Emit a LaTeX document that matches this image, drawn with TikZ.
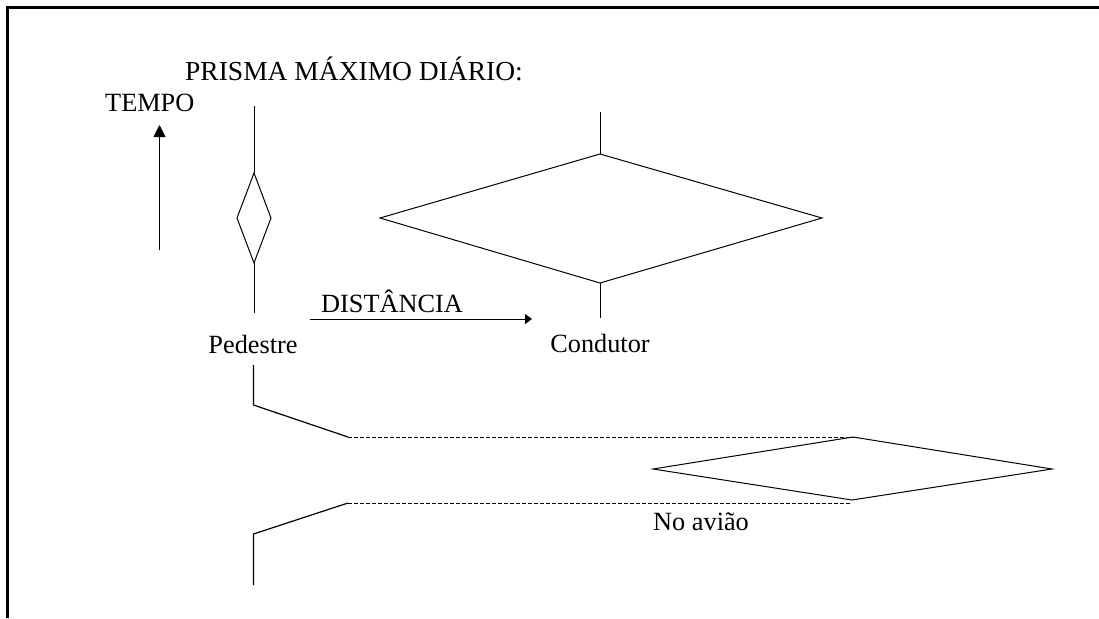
\documentclass[tikz,border=0pt]{standalone}
\usepackage{fontspec}
\setmainfont{Liberation Serif}
\usetikzlibrary{arrows.meta}
\begin{document}
\begin{tikzpicture}[x=1pt,y=-1pt,
  lbl/.style={inner sep=0pt,font=\fontsize{26.3}{30}\selectfont},
  biglbl/.style={inner sep=0pt,font=\fontsize{27.5}{32}\selectfont},
  thin line/.style={line width=1pt},
  prism/.style={line width=1.2pt},
  dashline/.style={line width=0.9pt,dash pattern=on 4pt off 2pt},
  frame/.style={line width=2.5pt}]
\useasboundingbox (0,0) rectangle (1099,618);
% frame (top and left edges)
\coordinate (fbl) at (7.7,618);
\coordinate (ftl) at (7.7,7.5);
\coordinate (ftr) at (1099,7.5);
\draw[frame] (fbl) -- (ftl) -- (ftr);

% labels
\node[biglbl,anchor=base west] (title) at (185,80) {PRISMA MÁXIMO DIÁRIO:};
\node[lbl,anchor=base west] (tempo) at (105,111) {TEMPO};
\node[lbl,anchor=base west] (dist) at (321,312) {DISTÂNCIA};
\node[lbl,anchor=base] (ped) at (253,353) {Pedestre};
\node[lbl,anchor=base] (cond) at (600,352) {Condutor};
\node[lbl,anchor=base west] (aviao) at (653,530) {No avião};

% axes arrows
\coordinate (t0) at (159.5,250);
\coordinate (t1) at (159.5,125);
\draw[thin line,-{Triangle[length=12pt,width=12pt]}] (t0) -- (t1);
\coordinate (d0) at (310,319);
\coordinate (d1) at (532,319);
\draw[thin line,-{Triangle[length=7pt,width=10pt]}] (d0) -- (d1);

% pedestrian prism
\coordinate (p0) at (254,106);
\coordinate (pt) at (254,173);
\coordinate (pl) at (237,218);
\coordinate (pr) at (271,218);
\coordinate (pb) at (254,263);
\coordinate (p1) at (254,313);
\draw[thin line] (p0) -- (pt);
\draw[thin line] (pt) -- (pr) -- (pb) -- (pl) -- cycle;
\draw[thin line] (pb) -- (p1);

% driver prism
\coordinate (c0) at (600,112);
\coordinate (ct) at (600,154);
\coordinate (cl) at (380,218);
\coordinate (cr) at (822,218);
\coordinate (cb) at (600,283);
\coordinate (c1) at (600,318);
\draw[thin line] (c0) -- (ct);
\draw[thin line] (ct) -- (cr) -- (cb) -- (cl) -- cycle;
\draw[thin line] (cb) -- (c1);

% airplane prism
\coordinate (a0) at (253.5,365);
\coordinate (a1) at (253.5,405);
\coordinate (a2) at (348,437);
\coordinate (at) at (853,437);
\coordinate (al) at (653,469);
\coordinate (ar) at (1052,469);
\coordinate (ab) at (852,500);
\coordinate (b2) at (348,503);
\coordinate (bb) at (852,503);
\coordinate (b1) at (253.5,534);
\coordinate (b0) at (253.5,585);
\draw[prism] (a0) -- (a1) -- (a2);
\draw[dashline] (a2) -- (at);
\draw[thin line] (at) -- (ar) -- (ab) -- (al) -- cycle;
\draw[dashline] (b2) -- (bb);
\draw[prism] (b2) -- (b1) -- (b0);
\end{tikzpicture}
\end{document}
